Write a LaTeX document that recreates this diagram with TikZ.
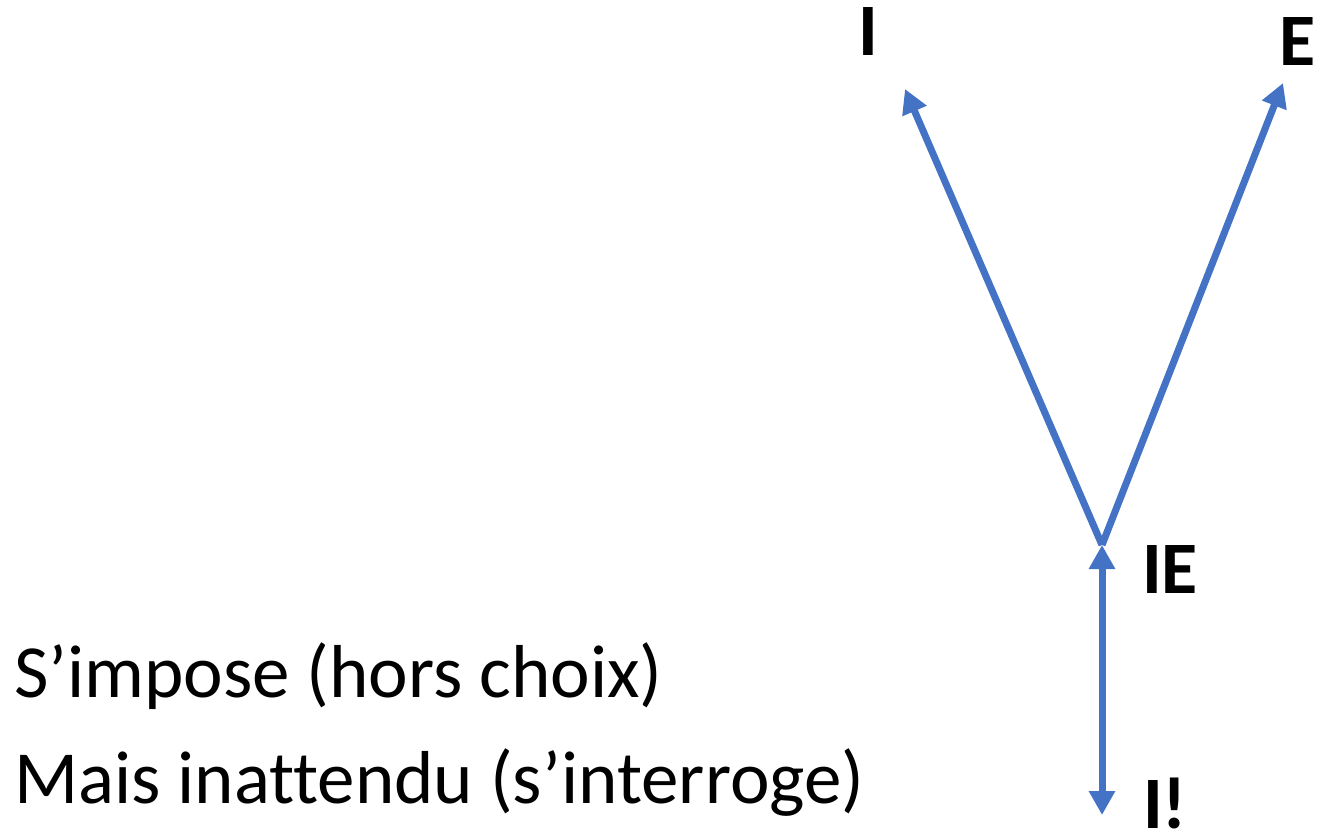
\documentclass[tikz,border=0pt]{standalone}
\usepackage{fontspec}
\setmainfont[Ligatures=NoCommon]{Carlito}
\usetikzlibrary{arrows.meta}
\definecolor{arrowblue}{HTML}{4472C4}
\tikzset{
  conn/.style={draw=arrowblue, line width=7pt, -{Triangle[length=24pt,width=25pt]}},
  biconn/.style={draw=arrowblue, line width=7pt, {Triangle[length=24pt,width=25pt]}-{Triangle[length=24pt,width=25pt]}},
  lbl/.style={inner sep=0pt, anchor=base west, font=\fontsize{74}{88}\selectfont\bfseries},
  txt/.style={inner sep=0pt, anchor=base west, font=\fontsize{75}{90}\selectfont}
}
\begin{document}
\begin{tikzpicture}[x=1pt,y=-1pt]
\useasboundingbox (0,0) rectangle (1320,835);
\coordinate (apex) at (1102,545);
\coordinate (tipI) at (905,89);
\coordinate (tipE) at (1283,83);
\coordinate (top) at (1102,545);
\coordinate (bot) at (1102,815);
\node[lbl] (I) at (858,55) {I};
\node[lbl] (E) at (1279,65) {E};
\node[lbl] (IE) at (1142,593) {IE};
\node[lbl] (Iex) at (1143,828) {I!};
\node[txt] (t1) at (14,697) {S’impose (hors choix)};
\node[txt] (t2) at (14,803) {Mais inattendu (s’interroge)};
\draw[conn] (apex) -- (tipI);
\draw[conn] (apex) -- (tipE);
\draw[biconn] (top) -- (bot);
\end{tikzpicture}
\end{document}
